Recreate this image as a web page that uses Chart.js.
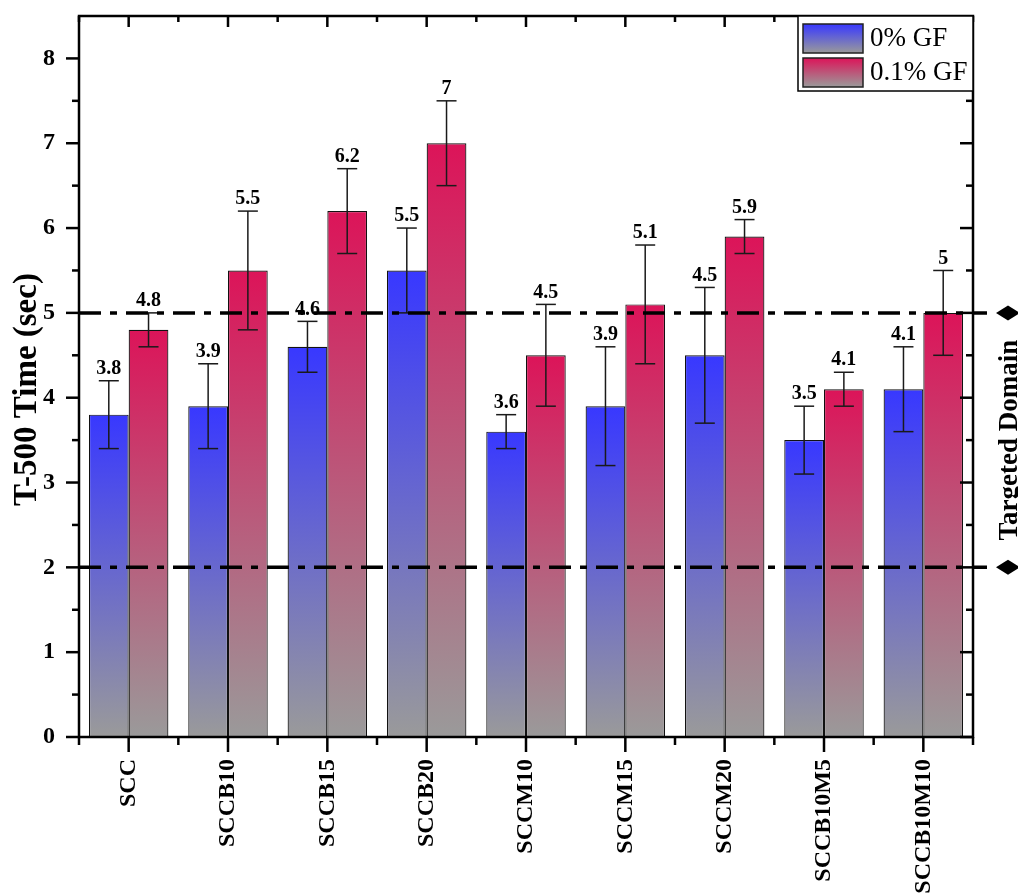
<!DOCTYPE html>
<html>
<head>
<meta charset="utf-8">
<script src="https://cdn.jsdelivr.net/npm/chart.js@4.4.1/dist/chart.umd.min.js"></script>
<style>
  html, body { margin: 0; padding: 0; background: #fff; }
  #wrap { width: 1018px; height: 894px; }
</style>
</head>
<body>
<div id="wrap"><canvas id="c" width="1018" height="894"></canvas></div>
<script>
// T-500 flow times of the mixes, without and with 0.1% glass fibre
const categories = ['SCC', 'SCCB10', 'SCCB15', 'SCCB20', 'SCCM10', 'SCCM15', 'SCCM20', 'SCCB10M5', 'SCCB10M10'];
const seriesNames = ['0% GF', '0.1% GF'];
const t500NoFiber = [3.8, 3.9, 4.6, 5.5, 3.6, 3.9, 4.5, 3.5, 4.1];
const t500Fiber = [4.8, 5.5, 6.2, 7.0, 4.5, 5.1, 5.9, 4.1, 5.0];
const errNoFiber = [0.4, 0.5, 0.3, 0.5, 0.2, 0.7, 0.8, 0.4, 0.5];
const errFiber = [0.2, 0.7, 0.5, 0.5, 0.6, 0.7, 0.2, 0.2, 0.5];
const yTickValues = [0, 1, 2, 3, 4, 5, 6, 7, 8];
const targetBounds = [2, 5];
const yMax = 8.5;

const SERIF = '"Times New Roman", "Liberation Serif", serif';
const topColors = ['#3838ff', '#dc1459'];
const baseGray = '#9a9a9a';

function fade(ctx, y0, y1, color) {
  const g = ctx.createLinearGradient(0, y0, 0, y1);
  g.addColorStop(0, color);
  g.addColorStop(1, baseGray);
  return g;
}

function barFill(idx) {
  return (c) => {
    const chart = c.chart;
    if (c.type !== 'data' || !chart.chartArea) return topColors[idx];
    const y = chart.scales.y;
    return fade(chart.ctx, y.getPixelForValue(c.raw), y.getPixelForValue(0), topColors[idx]);
  };
}

function line(ctx, x0, y0, x1, y1) {
  ctx.beginPath();
  ctx.moveTo(x0, y0);
  ctx.lineTo(x1, y1);
  ctx.stroke();
}

const errors = [errNoFiber, errFiber];

const decorations = {
  id: 'decorations',
  afterDatasetsDraw(chart) {
    const ctx = chart.ctx;
    const ys = chart.scales.y;
    ctx.save();
    // error bars and value labels
    chart.data.datasets.forEach((ds, di) => {
      const meta = chart.getDatasetMeta(di);
      meta.data.forEach((bar, i) => {
        const v = ds.data[i];
        const e = errors[di][i];
        const x = bar.x;
        const yHi = ys.getPixelForValue(v + e);
        const yLo = ys.getPixelForValue(v - e);
        ctx.strokeStyle = '#1a1a1a';
        ctx.lineWidth = 1.5;
        line(ctx, x, yHi, x, yLo);
        line(ctx, x - 10, yHi, x + 10, yHi);
        line(ctx, x - 10, yLo, x + 10, yLo);
        ctx.fillStyle = '#000';
        ctx.font = 'bold 20px ' + SERIF;
        ctx.textAlign = 'center';
        ctx.textBaseline = 'bottom';
        ctx.fillText(String(v), x, yHi - 2);
      });
    });

    // targeted domain limits
    const { left, right } = chart.chartArea;
    ctx.strokeStyle = '#000';
    ctx.lineWidth = 3.5;
    ctx.setLineDash([22, 9, 7, 9]);
    targetBounds.forEach((b) => {
      const py = ys.getPixelForValue(b);
      line(ctx, left, py, right + 14, py);
    });
    ctx.setLineDash([]);
    ctx.fillStyle = '#000';
    targetBounds.forEach((b) => {
      const py = ys.getPixelForValue(b);
      const cx = right + 35;
      ctx.beginPath();
      ctx.moveTo(cx - 12, py);
      ctx.lineTo(cx, py - 7.5);
      ctx.lineTo(cx + 12, py);
      ctx.lineTo(cx, py + 7.5);
      ctx.closePath();
      ctx.fill();
    });
    const midY = (ys.getPixelForValue(targetBounds[0]) + ys.getPixelForValue(targetBounds[1])) / 2;
    ctx.save();
    ctx.translate(right + 37, midY);
    ctx.rotate(-Math.PI / 2);
    ctx.font = 'bold 27px ' + SERIF;
    ctx.textAlign = 'center';
    ctx.textBaseline = 'middle';
    ctx.fillText('Targeted Domain', 0, 0);
    ctx.restore();
    ctx.restore();
  },
  afterDraw(chart) {
    const ctx = chart.ctx;
    const xs = chart.scales.x;
    const ys = chart.scales.y;
    const { left, right, top, bottom } = chart.chartArea;
    ctx.save();
    ctx.strokeStyle = '#000';
    ctx.lineWidth = 2.5;
    ctx.lineCap = 'butt';

    // x ticks: major at categories, minor between them
    categories.forEach((_, i) => {
      const px = xs.getPixelForValue(i);
      line(ctx, px, bottom, px, bottom + 15);
      line(ctx, px, top, px, top + 11);
    });
    for (let i = 0; i <= categories.length; i++) {
      const px = xs.getPixelForValue(i - 0.5);
      line(ctx, px, bottom, px, bottom + 8);
      line(ctx, px, top, px, top + 6);
    }
    // y ticks: major at integers, minor at halves
    yTickValues.forEach((v) => {
      const py = ys.getPixelForValue(v);
      line(ctx, left, py, left - 13, py);
      line(ctx, right, py, right - 13, py);
      if (v + 0.5 < yMax) {
        const pm = ys.getPixelForValue(v + 0.5);
        line(ctx, left, pm, left - 7, pm);
        line(ctx, right, pm, right - 7, pm);
      }
    });
    // frame
    ctx.strokeRect(left, top, right - left, bottom - top);

    // y axis title
    ctx.save();
    ctx.translate(27, (top + bottom) / 2 + 13);
    ctx.rotate(-Math.PI / 2);
    ctx.fillStyle = '#000';
    ctx.font = 'bold 33px ' + SERIF;
    ctx.textAlign = 'center';
    ctx.textBaseline = 'middle';
    ctx.fillText('T-500 Time (sec)', 0, 0);
    ctx.restore();

    // legend
    const lw = 175, lh = 75;
    const lx = right - lw, ly = top;
    ctx.fillStyle = '#fff';
    ctx.fillRect(lx, ly, lw, lh);
    ctx.lineWidth = 1.5;
    ctx.strokeStyle = '#000';
    ctx.strokeRect(lx, ly, lw, lh);
    seriesNames.forEach((name, i) => {
      const sy = ly + 8 + i * 34;
      ctx.fillStyle = fade(ctx, sy, sy + 29, topColors[i]);
      ctx.fillRect(lx + 5, sy, 60, 29);
      ctx.strokeStyle = '#222';
      ctx.lineWidth = 1.5;
      ctx.strokeRect(lx + 5, sy, 60, 29);
      ctx.fillStyle = '#000';
      ctx.font = '27px ' + SERIF;
      ctx.textAlign = 'left';
      ctx.textBaseline = 'middle';
      ctx.fillText(name, lx + 72, sy + 15);
    });
    ctx.restore();
  }
};

new Chart(document.getElementById('c'), {
  type: 'bar',
  data: {
    labels: categories,
    datasets: [
      { label: seriesNames[0], data: t500NoFiber, backgroundColor: barFill(0), borderColor: '#111', borderWidth: 1.2 },
      { label: seriesNames[1], data: t500Fiber, backgroundColor: barFill(1), borderColor: '#111', borderWidth: 1.2 }
    ]
  },
  options: {
    responsive: false,
    animation: false,
    events: [],
    layout: { padding: { left: 0, right: 45, top: 16, bottom: 0 } },
    datasets: { bar: { categoryPercentage: 0.8, barPercentage: 1.0 } },
    plugins: { legend: { display: false }, tooltip: { enabled: false } },
    scales: {
      x: {
        offset: true,
        grid: { display: false, drawTicks: false },
        border: { display: false },
        ticks: {
          color: '#000',
          font: { family: SERIF, size: 24, weight: 'bold' },
          minRotation: 90,
          maxRotation: 90,
          autoSkip: false,
          padding: 22
        },
        afterFit(s) { s.height = 157; s.paddingLeft = 0; s.paddingRight = 0; }
      },
      y: {
        min: 0,
        max: yMax,
        grid: { display: false, drawTicks: false },
        border: { display: false },
        ticks: {
          color: '#000',
          font: { family: SERIF, size: 24, weight: 'bold' },
          padding: 24
        },
        afterBuildTicks(s) { s.ticks = yTickValues.map((v) => ({ value: v })); },
        afterFit(s) { s.width = 79; s.paddingTop = 0; s.paddingBottom = 0; }
      }
    }
  },
  plugins: [decorations]
});
</script>
</body>
</html>
